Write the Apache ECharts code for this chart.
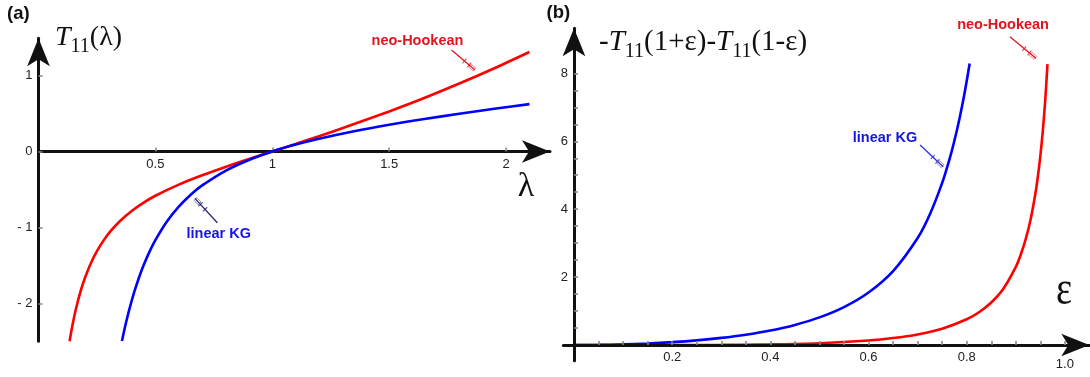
<!DOCTYPE html>
<html><head><meta charset="utf-8">
<script src="https://cdn.jsdelivr.net/npm/echarts@6/dist/echarts.min.js"></script>
<style>html,body{margin:0;padding:0;background:#fff}#c{width:1090px;height:377px}</style>
</head><body><div id="c"></div>
<script>
// ---------- Panel (a): T11(lambda) ----------
const aLambdaNeo = [0.133,0.14,0.15,0.16,0.175,0.19,0.21,0.23,0.25,0.28,0.31,0.35,0.4,0.45,0.5,0.6,0.7,0.8,0.9,1.0,1.1,1.2,1.35,1.5,1.65,1.8,1.95,2.1];
const aT11Neo    = [-2.5,-2.374,-2.215,-2.075,-1.895,-1.742,-1.573,-1.432,-1.3125,-1.164,-1.043,-0.912,-0.78,-0.673,-0.583,-0.436,-0.313,-0.203,-0.1,0,0.1,0.202,0.361,0.528,0.705,0.895,1.097,1.311];
const aLambdaKG  = [0.357,0.365,0.375,0.39,0.41,0.43,0.45,0.475,0.5,0.55,0.6,0.65,0.7,0.8,0.9,1.0,1.1,1.2,1.35,1.5,1.65,1.8,1.95,2.1];
const aT11KG     = [-2.496,-2.38,-2.245,-2.062,-1.846,-1.659,-1.496,-1.319,-1.167,-0.919,-0.726,-0.572,-0.447,-0.254,-0.1115,0,0.0912,0.1685,0.267,0.352,0.4276,0.497,0.5623,0.624];
const aXTicks = [0.5,1,1.5,2];
const aYTicks = [-2,-1,0,1];

// ---------- Panel (b): -T11(1+eps)-T11(1-eps) ----------
const bEpsKG = [0,0.05,0.1,0.15,0.2,0.25,0.3,0.35,0.4,0.45,0.5,0.55,0.6,0.65,0.7,0.725,0.75,0.765,0.775,0.785,0.795,0.806];
const bSumKG = [0,0.005,0.0203,0.0467,0.0856,0.139,0.211,0.305,0.429,0.594,0.815,1.118,1.547,2.177,3.152,3.853,4.776,5.476,6.023,6.649,7.368,8.29];
const bEpsNeo = [0,0.1,0.2,0.3,0.4,0.5,0.6,0.65,0.7,0.75,0.8,0.825,0.85,0.875,0.9,0.91,0.92,0.93,0.94,0.945,0.95,0.955,0.96,0.9645];
const bSumNeo = [0,0.0001,0.0011,0.0059,0.0203,0.0556,0.135,0.206,0.314,0.482,0.759,0.967,1.254,1.667,2.302,2.66,3.109,3.691,4.472,4.97,5.569,6.303,7.222,8.27];
const bXLabels = [0.2,0.4,0.6,0.8,1.0];
const bXTicks = [0.05,0.1,0.15,0.2,0.25,0.3,0.35,0.4,0.45,0.5,0.55,0.6,0.65,0.7,0.75,0.8,0.85,0.9,0.95,1.0];
const bYLabels = [2,4,6,8];
const bYTicks = [0.5,1,1.5,2,2.5,3,3.5,4,4.5,5,5.5,6,6.5,7,7.5,8];

// callout annotations (data coordinates): [gridIndex, text, textColor, lineColor, textPos, lineFrom, lineTo]
const callouts = [
  [0, 'neo-Hookean', '#e2141e', '#e2141e', [1.621, 1.462], [1.767, 1.337], [1.867, 1.074]],
  [0, 'linear KG',   '#1414e6', '#22226e', [0.771, -1.083], [0.765, -0.938], [0.669, -0.617]],
  [1, 'linear KG',   '#1414e6', '#3030d0', [0.6335, 6.11], [0.705, 5.889], [0.752, 5.25]],
  [1, 'neo-Hookean', '#e2141e', '#e2141e', [0.874, 9.41], [0.888, 9.078], [0.941, 8.442]]
];

const RED = '#ff0000', BLUE = '#0000ff';
const zip = (xs, ys) => xs.map((x, i) => [x, ys[i]]);
const SANS = '"Liberation Sans", Arial, Helvetica, sans-serif';
const SERIF = '"Liberation Serif", "Times New Roman", serif';

function axisLine() {
  return { onZero: false, symbol: ['none', 'arrow'], symbolSize: [17, 28],
           lineStyle: { color: '#111', width: 3 } };
}
function ticks(vals) {
  return { show: true, inside: true, length: 4, customValues: vals,
           lineStyle: { color: '#8a8a8a', width: 1.6 } };
}
const fmtA = v => v < 0 ? '- ' + Math.abs(v) : String(v);
const lab = { margin: 6, fontSize: 13, color: '#222', fontFamily: SANS, hideOverlap: false,
              showMinLabel: true, showMaxLabel: true };

// grid geometry
const GA = { left: 38.5, top: 38.3, width: 511.5, height: 303 };
const GB = { left: 563.3, top: 28.3, width: 526, height: 332.4 };

const option = {
  animation: false,
  backgroundColor: '#fff',
  grid: [
    Object.assign({ outerBoundsMode: 'none', containLabel: false }, GA),
    Object.assign({ outerBoundsMode: 'none', containLabel: false }, GB)
  ],
  xAxis: [
    { type: 'value', gridIndex: 0, min: 0, max: 2.188, position: 'bottom', offset: -189.8,
      axisLine: axisLine(), splitLine: { show: false }, axisTick: ticks(aXTicks),
      axisLabel: Object.assign({ customValues: aXTicks, formatter: v => String(v) }, lab) },
    { type: 'value', gridIndex: 1, min: -0.0218, max: 1.0497, position: 'bottom', offset: -15.7, z: 5,
      axisLine: axisLine(), splitLine: { show: false }, axisTick: ticks(bXTicks),
      axisLabel: Object.assign({ customValues: bXLabels,
        formatter: v => Math.abs(v - 1) < 1e-9 ? '{low|1.0}' : v.toFixed(1),
        rich: { low: { fontSize: 13, fontFamily: SANS, color: '#222', padding: [7, 0, 0, 0] } } }, lab) }
  ],
  yAxis: [
    { type: 'value', gridIndex: 0, min: -2.5, max: 1.491, position: 'left', offset: 0,
      axisLine: axisLine(), splitLine: { show: false }, axisTick: ticks(aYTicks),
      axisLabel: Object.assign({ customValues: aYTicks, formatter: fmtA }, lab) },
    { type: 'value', gridIndex: 1, min: -0.46, max: 9.326, position: 'left', offset: -10.7, z: 5,
      axisLine: axisLine(), splitLine: { show: false }, axisTick: ticks(bYTicks),
      axisLabel: Object.assign({ customValues: bYLabels, formatter: v => String(v) }, lab) }
  ],
  series: [
    { name: 'neo-Hookean (a)', type: 'line', xAxisIndex: 0, yAxisIndex: 0, data: zip(aLambdaNeo, aT11Neo),
      showSymbol: false, symbol: 'none', smooth: 0.3, lineStyle: { color: RED, width: 2.6 } },
    { name: 'linear KG (a)', type: 'line', xAxisIndex: 0, yAxisIndex: 0, data: zip(aLambdaKG, aT11KG),
      showSymbol: false, symbol: 'none', smooth: 0.3, lineStyle: { color: BLUE, width: 2.6 } },
    { name: 'neo-Hookean (b)', type: 'line', xAxisIndex: 1, yAxisIndex: 1, data: zip(bEpsNeo, bSumNeo),
      showSymbol: false, symbol: 'none', smooth: 0.3, lineStyle: { color: RED, width: 2.6 } },
    { name: 'linear KG (b)', type: 'line', xAxisIndex: 1, yAxisIndex: 1, data: zip(bEpsKG, bSumKG),
      showSymbol: false, symbol: 'none', smooth: 0.3, lineStyle: { color: BLUE, width: 2.6 } }
  ]
};

const chart = echarts.init(document.getElementById('c'), null, { renderer: 'canvas' });
chart.setOption(option);

// ---- text helpers ----
const meas = document.createElement('canvas').getContext('2d');
function txt(x, y, text, font, fill, align, extra) {
  return Object.assign({ type: 'text', x: x, y: y, silent: true,
    style: { text: text, font: font, fill: fill, align: align, verticalAlign: 'middle',
             textAlign: align, textVerticalAlign: 'middle' } }, extra || {});
}
// runs laid out on an alphabetic baseline: [text, fontSize, italic, dy]
function runs(x, baseline, parts) {
  const els = []; let cx = x;
  parts.forEach(p => {
    const font = (p[2] ? 'italic ' : '') + p[1] + 'px ' + SERIF;
    meas.font = font;
    const w = meas.measureText(p[0]).width;
    els.push(txt(cx, baseline + p[3] - 0.31 * p[1], p[0], font, '#111', 'left'));
    cx += w;
  });
  return els;
}

const g = [];
// panel labels
g.push(txt(7, 13.5, '(a)', 'bold 18.5px ' + SANS, '#111', 'left'));
g.push(txt(546.5, 13, '(b)', 'bold 18.5px ' + SANS, '#111', 'left'));
// axis titles
runs(55, 46.7, [['T', 28, true, 0], ['11', 20, false, 6.6], ['(λ)', 28, false, 0]]).forEach(e => g.push(e));
runs(599, 51.5, [['-', 29, false, 0], ['T', 29, true, 0], ['11', 20, false, 6.8], ['(1+ε)-', 29, false, 0],
                 ['T', 29, true, 0], ['11', 20, false, 6.8], ['(1-ε)', 29, false, 0]]).forEach(e => g.push(e));
g.push(txt(526, 198 - 0.31 * 34, 'λ', '34px ' + SERIF, '#111', 'center'));
g.push(txt(1064, 306 - 0.31 * 48, 'ε', '48px ' + SERIF, '#111', 'center', { scaleX: 0.8 }));

// callouts
callouts.forEach(c => {
  const gi = c[0];
  const tp = chart.convertToPixel({ gridIndex: gi }, c[4]);
  const p1 = chart.convertToPixel({ gridIndex: gi }, c[5]);
  const p2 = chart.convertToPixel({ gridIndex: gi }, c[6]);
  g.push(txt(tp[0], tp[1], c[1], 'bold 14.5px ' + SANS, c[2], 'center'));
  g.push({ type: 'line', silent: true, shape: { x1: p1[0], y1: p1[1], x2: p2[0], y2: p2[1] },
           style: { stroke: c[3], lineWidth: 1.3 } });
  const dx = p2[0] - p1[0], dy = p2[1] - p1[1], L = Math.hypot(dx, dy);
  const ux = dx / L, uy = dy / L, nx = -uy, ny = ux;
  [0.55, 0.75].forEach(f => {
    const cx = p1[0] + dx * f, cy = p1[1] + dy * f;
    g.push({ type: 'line', silent: true,
             shape: { x1: cx - nx * 3, y1: cy - ny * 3, x2: cx + nx * 3, y2: cy + ny * 3 },
             style: { stroke: c[3], lineWidth: 1.1, opacity: 0.8 } });
  });
  g.push({ type: 'rect', silent: true,
           shape: { x: -3, y: -2, width: 6, height: 4 },
           x: p1[0] + dx * 0.88, y: p1[1] + dy * 0.88, rotation: -Math.atan2(dy, dx),
           style: { stroke: c[3], fill: 'none', lineWidth: 0.8, opacity: 0.6 } });
});
chart.setOption({ graphic: { elements: g } });
</script>
</body></html>
